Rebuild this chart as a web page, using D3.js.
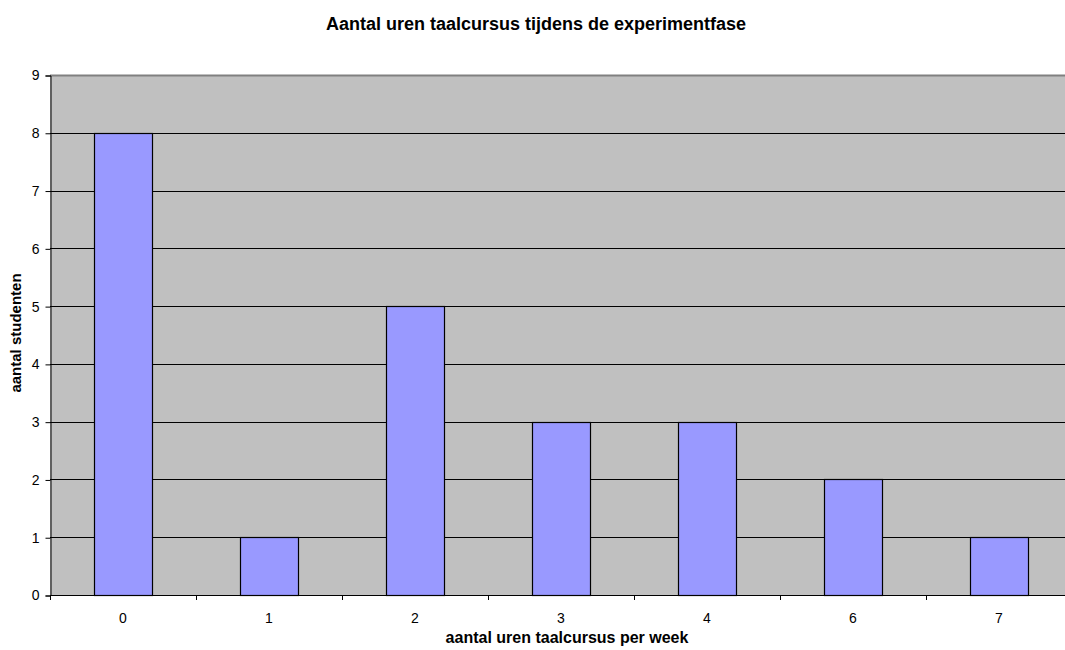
<!DOCTYPE html>
<html>
<head>
<meta charset="utf-8">
<script src="https://cdn.jsdelivr.net/npm/d3@7"></script>
<style>
  body { margin: 0; background: #fff; }
  text { font-family: Arial, "Liberation Sans", sans-serif; }
</style>
</head>
<body>
<div class="chart-holder"></div>
<script>
const categories = ["0", "1", "2", "3", "4", "6", "7"];
const counts = [8, 1, 5, 3, 3, 2, 1];
const yTicks = [0, 1, 2, 3, 4, 5, 6, 7, 8, 9];

const width = 1065, height = 650;
const plotLeft = 50, plotTop = 75, plotBottom = 595, plotRight = 1072;

const svg = d3.select('.chart-holder').append('svg')
  .attr('width', width).attr('height', height)
  .style('display', 'block');

const x = d3.scaleBand().domain(categories).range([plotLeft, plotRight]).paddingInner(0.6).paddingOuter(0.3);
const xEdges = d3.scaleLinear().domain([0, categories.length]).range([plotLeft, plotRight]);
const y = d3.scaleLinear().domain([0, 9]).range([plotBottom, plotTop]);

// plot background
svg.append('rect')
  .attr('x', plotLeft).attr('y', plotTop)
  .attr('width', plotRight - plotLeft).attr('height', plotBottom - plotTop)
  .attr('fill', '#c0c0c0');

// gridlines
svg.append('g').selectAll('line')
  .data(yTicks.filter(d => d > 0 && d < 9))
  .enter().append('line')
  .attr('x1', plotLeft).attr('x2', plotRight)
  .attr('y1', d => Math.round(y(d)) + 0.5).attr('y2', d => Math.round(y(d)) + 0.5)
  .attr('stroke', '#000').attr('stroke-width', 1);

// top border
svg.append('line')
  .attr('x1', plotLeft).attr('x2', plotRight)
  .attr('y1', plotTop + 0.5).attr('y2', plotTop + 0.5)
  .attr('stroke', '#808080').attr('stroke-width', 2);

// bars
svg.append('g').selectAll('rect')
  .data(counts)
  .enter().append('rect')
  .attr('x', (d, i) => Math.round(x(categories[i])) + 0.5)
  .attr('y', d => Math.round(y(d)) + 0.5)
  .attr('width', Math.round(x.bandwidth()))
  .attr('height', d => Math.round(y(0)) - Math.round(y(d)))
  .attr('fill', '#9999ff')
  .attr('stroke', '#000').attr('stroke-width', 1.2);

// y axis
const yAxis = d3.axisLeft(y).tickValues(yTicks).tickSize(5).tickPadding(6);
const yG = svg.append('g').attr('transform', `translate(${plotLeft + 0.5},0.5)`).call(yAxis);
yG.select('.domain').attr('stroke', '#000');
yG.selectAll('line').attr('stroke', '#000');
yG.selectAll('text').style('font-size', '14px').style('font-family', 'Arial, "Liberation Sans", sans-serif').attr('fill', '#000');

// x axis: ticks at category edges, labels at centres
svg.append('line')
  .attr('x1', plotLeft).attr('x2', plotRight)
  .attr('y1', plotBottom + 0.5).attr('y2', plotBottom + 0.5)
  .attr('stroke', '#000');
svg.append('g').selectAll('line')
  .data(d3.range(categories.length + 1))
  .enter().append('line')
  .attr('x1', d => Math.round(xEdges(d)) + 0.5).attr('x2', d => Math.round(xEdges(d)) + 0.5)
  .attr('y1', plotBottom).attr('y2', plotBottom + 5)
  .attr('stroke', '#000');
svg.append('g').selectAll('text')
  .data(categories)
  .enter().append('text')
  .attr('x', d => x(d) + x.bandwidth() / 2)
  .attr('y', 623)
  .attr('text-anchor', 'middle')
  .style('font-size', '14px')
  .text(d => d);

// titles
svg.append('text')
  .attr('x', 536).attr('y', 30)
  .attr('text-anchor', 'middle')
  .style('font-size', '18px').style('font-weight', 'bold')
  .text('Aantal uren taalcursus tijdens de experimentfase');

svg.append('text')
  .attr('x', 567).attr('y', 643)
  .attr('text-anchor', 'middle')
  .style('font-size', '16px').style('font-weight', 'bold')
  .text('aantal uren taalcursus per week');

svg.append('text')
  .attr('transform', 'translate(21,333) rotate(-90)')
  .attr('text-anchor', 'middle')
  .style('font-size', '15px').style('font-weight', 'bold')
  .text('aantal studenten');
</script>
</body>
</html>
